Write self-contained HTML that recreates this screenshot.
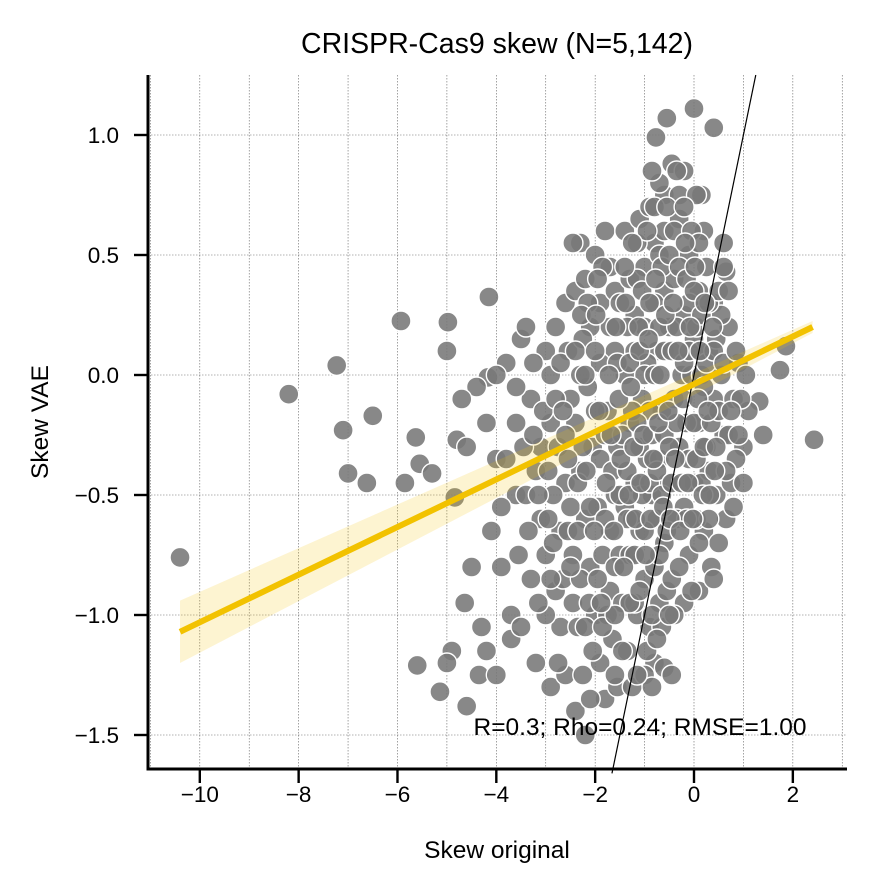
<!DOCTYPE html>
<html><head><meta charset="utf-8"><style>
body{margin:0;background:#fff;}
svg text{font-family:"Liberation Sans",Arial,sans-serif;fill:#000;}
</style></head><body>
<svg id="chart" width="875" height="891" viewBox="0 0 875 891" xmlns="http://www.w3.org/2000/svg">
<text x="497" y="53" font-size="28.5" text-anchor="middle">CRISPR-Cas9 skew (N=5,142)</text>
<g id="grid"></g>
<g id="points"></g>
<g id="fit"></g>
<g id="axes"></g>
<text x="640" y="735" font-size="24.5" text-anchor="middle">R=0.3; Rho=0.24; RMSE=1.00</text>
<text x="497" y="858" font-size="24.5" text-anchor="middle">Skew original</text>
<text x="48" y="422" font-size="24.5" text-anchor="middle" transform="rotate(-90 48 422)">Skew VAE</text>
</svg>
<script>
const xTicks=[-10,-8,-6,-4,-2,0,2];
const yTicks=[-1.5,-1.0,-0.5,0.0,0.5,1.0];
const yTickLabels=["\u22121.5","\u22121.0","\u22120.5","0.0","0.5","1.0"];
const xTickLabels=["\u221210","\u22128","\u22126","\u22124","\u22122","0","2"];
const fitX=[-10.4,2.4];
const fitY=[-1.07,0.2];
const bandLower=[-1.2,0.175];
const bandUpper=[-0.94,0.225];
const pts=[[-10.4,-0.76],[-8.2,-0.08],[-7.23,0.04],[-7.1,-0.23],[-7.0,-0.41],[-6.5,-0.17],[-6.62,-0.45],[-5.93,0.225],[-5.85,-0.45],[-5.63,-0.26],[-5.55,-0.37],[-5.3,-0.41],[-4.98,0.22],[-5.0,0.1],[-4.84,-0.51],[-5.6,-1.21],[-5.14,-1.32],[-4.9,-1.15],[-4.64,-0.95],[-4.17,-0.01],[-4.15,0.325],[-4.8,-0.27],[-4.6,-1.38],[-4.35,-1.25],[-5.0,-1.2],[1.74,0.02],[1.86,0.12],[2.43,-0.27],[1.4,-0.25],[1.32,-0.11],[0,1.11],[0.4,1.03],[-0.55,1.07],[-0.77,0.99],[-0.45,0.88],[-0.2,0.85],[-0.6,0.75],[0.15,0.75],[0.6,0.55],[0.65,0.43],
[-4.4,-0.05],[-4.2,-0.2],[-4.0,-0.35],[-3.8,0.05],[-3.6,-0.5],[-4.1,-0.65],[-3.9,-0.8],[-4.3,-1.05],[-3.7,-1.0],[-4.0,-1.25],[-3.6,-0.2],[-3.5,0.15],[-4.6,-0.3],[-4.5,-0.8],[-3.9,-0.55],[-3.55,-0.75],[-3.7,-1.1],[-4.2,-1.15],[-3.8,-0.35],[-4.7,-0.1],[-4.0,0.0],[-3.4,0.2],
[-3.3,-0.1],[-3.2,-0.4],[-3.1,-0.6],[-3.0,0.1],[-2.9,-0.2],[-2.8,-0.9],[-3.2,-1.2],[-2.7,-1.05],[-3.0,-0.75],[-2.6,0.3],[-2.8,0.2],[-3.3,-0.85],[-2.9,-1.3],[-2.6,-0.45],[-2.7,-0.65],[-3.1,-0.3],[-2.5,-0.1],[-2.6,-1.25],[-3.4,-0.5],[-2.9,0.0],[-3.0,-1.0],[-2.75,-0.3],[-2.55,0.1],[-3.25,0.05],[-2.85,-0.5],[-2.65,-0.85],
[-2.4,0.35],[-2.3,0.55],[-2.2,0.4],[-2.1,0.2],[-2.0,0.5],[-1.9,0.3],[-1.8,0.6],[-1.7,0.45],[-1.6,0.1],[-2.4,-0.2],[-2.3,-0.4],[-2.2,-0.6],[-2.1,-0.8],[-2.0,-1.0],[-1.9,-1.2],[-1.8,-1.35],[-1.7,-0.9],[-1.6,-0.5],[-2.45,-0.75],[-2.35,-1.05],[-2.25,-1.25],[-2.15,-0.05],[-2.05,-0.3],[-1.95,-0.55],[-1.85,-0.75],[-1.75,-0.15],[-1.65,-1.1],[-1.55,-0.3],[-2.4,-1.4],[-2.2,-1.5],[-1.9,0.05],[-2.3,0.0],[-1.6,0.35],[-2.1,-1.35],[-1.7,-0.65],[-2.0,-0.15],[-1.8,-0.25],[-1.5,-0.75],[-1.55,-1.3],[-2.25,0.15],
[-1.4,0.6],[-1.3,0.4],[-1.2,0.25],[-1.1,0.65],[-1.0,0.45],[-0.9,0.7],[-0.8,0.55],[-0.7,0.8],[-0.6,0.35],[-1.4,0.0],[-1.3,-0.2],[-1.2,-0.45],[-1.1,-0.65],[-1.0,-0.85],[-0.9,-1.05],[-0.8,-1.2],[-0.7,-0.95],[-0.6,-0.7],[-1.45,-0.95],[-1.35,-1.15],[-1.25,-1.3],[-1.15,-1.0],[-1.05,-0.1],[-0.95,-0.35],[-0.85,-0.5],[-0.75,0.1],[-0.65,-0.15],[-0.55,-0.45],[-1.4,-0.55],[-1.3,-0.75],[-1.2,0.1],[-1.1,-0.3],[-1.0,0.2],[-0.9,-0.15],[-0.8,0.3],[-0.7,-0.35],[-0.6,0.6],[-0.5,0.2],[-1.0,-1.25],[-0.8,-0.8],[-1.2,-0.95],[-0.65,-1.05],[-0.55,-0.9],[-1.35,0.2],[-0.95,0.05],[-0.75,-0.6],[-1.15,0.4],[-0.85,0.85],[-1.25,-0.6],[-0.7,0.5],[-0.6,-1.22],[-1.6,-1.25],
[-0.4,0.4],[-0.3,0.65],[-0.2,0.25],[-0.1,0.5],[0.0,0.15],[0.1,0.35],[0.2,0.6],[0.3,0.1],[0.4,0.3],[-0.4,-0.1],[-0.3,-0.3],[-0.2,-0.55],[-0.1,-0.75],[0.0,-0.45],[0.1,-0.2],[0.2,-0.65],[0.3,-0.4],[0.4,-0.1],[-0.45,-0.85],[-0.35,-0.6],[-0.25,0.0],[-0.15,-0.2],[-0.05,0.0],[0.05,-0.6],[0.15,0.0],[0.25,-0.3],[0.35,-0.8],[0.45,0.15],[-0.3,0.75],[0.05,0.75],[0.25,0.45],[-0.2,-0.95],[-0.4,-1.0],[0.1,-0.9],[0.45,-0.5],[-0.1,0.3],[0.2,-0.05],
[0.55,0.0],[0.6,-0.25],[0.7,0.2],[0.75,-0.45],[0.8,-0.1],[0.9,0.05],[1.0,-0.3],[1.1,-0.15],[0.6,0.45],[0.65,-0.6],[0.85,-0.35],[0.95,-0.1],[0.5,-0.7],[0.4,-0.85],[0.55,0.25],[1.05,0.0],[0.7,-0.25],[0.8,-0.55],
[-3.6,-0.05],[-3.45,-0.3],[-3.35,-0.65],[-3.15,-0.95],[-3.05,-0.15],[-2.95,-0.4],[-2.85,-0.7],[-2.75,-1.2],[-2.7,0.05],[-2.6,-0.25],[-2.5,-0.55],[-2.45,-0.95],[-2.4,0.1],[-2.35,-0.45],[-2.3,-0.85],[-2.25,-0.3],[-2.2,-1.05],[-2.15,0.3],[-2.1,-0.55],[-2.05,-1.15],[-2.0,0.1],[-1.95,-0.85],[-1.9,-0.35],[-1.85,0.45],[-1.8,-0.6],[-1.75,-1.0],[-1.7,0.2],[-1.65,-0.4],[-1.6,-0.8],[-1.55,0.05],[-1.5,-0.5],[-1.5,0.3],[-1.45,-0.25],[-1.45,-1.15],[-1.4,0.45],[-1.35,-0.4],[-1.3,-0.95],[-1.3,0.05],[-1.25,-0.15],[-1.2,-0.75],[-1.15,-0.2],[-1.15,0.55],[-1.1,-0.9],[-1.1,0.1],[-1.05,-0.5],[-1.05,0.35],[-1.0,-0.65],[-1.0,0.0],[-0.95,-1.15],[-0.95,0.6],[-0.9,-0.45],[-0.9,0.3],[-0.85,-0.25],[-0.85,-1.0],[-0.8,0.0],[-0.8,0.7],[-0.75,-0.4],[-0.75,-1.1],[-0.7,0.2],[-0.7,-0.75],[-0.65,0.45],[-0.65,-0.5],[-0.6,-0.25],[-0.6,0.1],[-0.55,0.7],[-0.55,-0.65],[-0.5,-0.3],[-0.5,0.5],[-0.5,-1.0],[-0.45,0.1],[-0.45,-0.45],[-0.4,0.6],[-0.35,-0.2],[-0.35,0.2],[-0.3,-0.8],[-0.3,0.45],[-0.25,-0.45],[-0.2,0.05],[-0.2,0.7],[-0.15,-0.6],[-0.15,0.4],[-0.1,-0.35],[-0.1,0.1],[-0.05,-0.9],[-0.05,0.6],[0.0,-0.2],[0.0,0.35],[0.05,-0.35],[0.05,0.2],[0.1,0.55],[0.1,-0.7],[0.15,-0.45],[0.15,0.25],[0.2,-0.3],[0.25,0.05],[0.3,-0.6],[0.3,0.3],[0.35,-0.2],[0.4,0.1],[0.45,-0.3],[0.5,0.35],[0.5,-0.15],[0.6,0.05],[0.65,-0.4],[0.7,0.35],[0.75,-0.15],[0.85,0.1],[0.9,-0.25],[1.0,-0.45],[-1.85,-1.05],[-1.6,-1.0],[-1.35,-0.6],[-2.55,-0.65],[-2.9,-0.85],[-3.5,-1.05],[-2.45,0.55],[-2.2,0.0],[-1.25,0.55],[-0.35,0.85],[-1.95,0.4],[-0.45,-1.25],[-0.85,-1.3],[-1.15,-1.25],
[-3.25,-0.25],[-3.15,-0.5],[-2.95,-0.6],[-2.8,-0.1],[-2.65,-0.15],[-2.55,-0.35],[-2.5,-0.8],[-2.35,-0.65],[-2.28,0.25],[-2.18,-0.4],[-2.12,-0.95],[-2.02,-0.65],[-1.98,0.25],[-1.92,-0.15],[-1.88,-0.95],[-1.78,-0.45],[-1.72,0.0],[-1.68,-0.25],[-1.62,-0.65],[-1.58,0.2],[-1.52,-0.1],[-1.48,-0.35],[-1.42,-0.8],[-1.38,0.3],[-1.32,-0.5],[-1.28,-0.05],[-1.22,-0.3],[-1.18,-0.6],[-1.12,0.2],[-1.08,-0.45],[-1.02,-0.25],[-0.98,-0.75],[-0.92,0.15],[-0.88,-0.6],[-0.82,-0.35],[-0.78,0.4],[-0.72,-0.2],[-0.68,0.0],[-0.62,-0.55],[-0.58,0.25],[-0.52,-0.15],[-0.48,-0.6],[-0.42,0.3],[-0.38,-0.35],[-0.32,0.1],[-0.28,-0.65],[-0.22,-0.1],[-0.18,0.55],[-0.12,-0.45],[-0.08,0.2],[-0.02,-0.6],[0.02,0.45],[0.08,-0.1],[0.12,0.1],[0.18,-0.5],[0.22,0.3],[0.28,-0.15],[0.32,-0.5],[0.38,0.2],[0.42,-0.4]];

const L=148,R=847,T=75,B=769;
const X=v=>694+v*49.42;
const Y=v=>375-v*240;
const NS="http://www.w3.org/2000/svg";
function mk(tag,parent,attrs){const e=document.createElementNS(NS,tag);for(const k in attrs)e.setAttribute(k,attrs[k]);parent.appendChild(e);return e;}
const grid=document.getElementById('grid');
for(let v=-11;v<=3;v++){const x=X(v);if(x<L||x>R)continue;
 const g=mk('line',grid,{x1:x,x2:x,y1:T,y2:B,stroke:'#666','stroke-width':0.6,'stroke-dasharray':'1.5,1.5'});
 
 }
yTicks.forEach(v=>{const y=Y(v);
 const g=mk('line',grid,{x1:L,x2:R,y1:y,y2:y,stroke:'#666','stroke-width':0.6,'stroke-dasharray':'1.5,1.5'});
 
 });
const pg=document.getElementById('points');
pts.forEach(p=>{const c=mk('circle',pg,{cx:X(p[0]),cy:Y(p[1]),r:10,fill:'#777','fill-opacity':0.88,stroke:'#fff','stroke-width':1.4});
 
 });
const fg=document.getElementById('fit');
const band=mk('polygon',fg,{points:`${X(fitX[0])},${Y(bandUpper[0])} ${X(fitX[1])},${Y(bandUpper[1])} ${X(fitX[1])},${Y(bandLower[1])} ${X(fitX[0])},${Y(bandLower[0])}`,fill:'#f5c400','fill-opacity':0.18});


const idl=mk('line',fg,{x1:X(-1.66),y1:Y(-1.66),x2:X(1.25),y2:Y(1.25),stroke:'#000','stroke-width':1.2});


const rl=mk('line',fg,{x1:X(fitX[0]),y1:Y(fitY[0]),x2:X(fitX[1]),y2:Y(fitY[1]),stroke:'#f2c200','stroke-width':6});


const ax=document.getElementById('axes');
const ya=mk('line',ax,{x1:L,x2:L,y1:T,y2:B+1.5,stroke:'#000','stroke-width':3});


const xa=mk('line',ax,{x1:L-1.5,x2:R,y1:B,y2:B,stroke:'#000','stroke-width':3});


xTicks.forEach((v,i)=>{const x=X(v);
 const t=mk('line',ax,{x1:x,x2:x,y1:B,y2:B+14,stroke:'#000','stroke-width':2.4});
 
 
 const l=mk('text',ax,{x:x,y:B+33,'font-size':22.5,'text-anchor':'middle'});l.textContent=xTickLabels[i];
 
 });
yTicks.forEach((v,i)=>{const y=Y(v);
 const t=mk('line',ax,{x1:L-14,x2:L,y1:y,y2:y,stroke:'#000','stroke-width':2.4});
 
 
 const l=mk('text',ax,{x:L-29,y:y+8,'font-size':22.5,'text-anchor':'end'});l.textContent=yTickLabels[i];
 
 });
</script>
</body></html>
